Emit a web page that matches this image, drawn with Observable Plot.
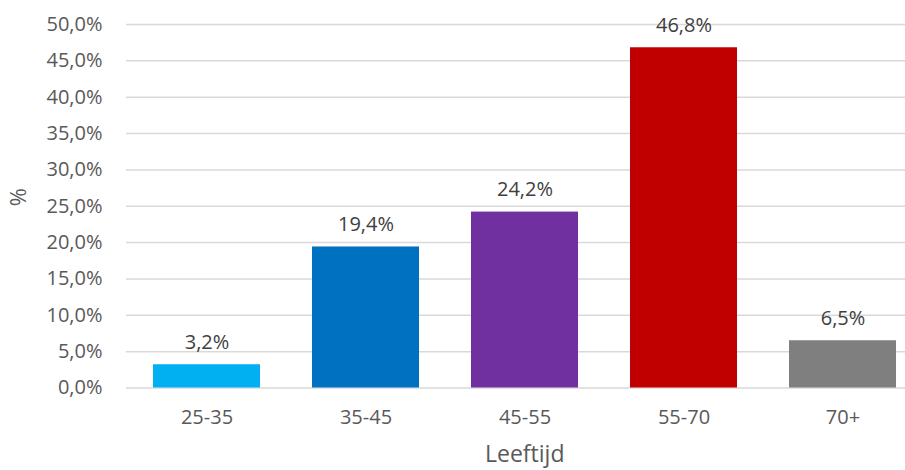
<!DOCTYPE html>
<html>
<head>
<meta charset="utf-8">
<script src="https://cdn.jsdelivr.net/npm/d3@7"></script>
<script src="https://cdn.jsdelivr.net/npm/@observablehq/plot@0.6"></script>
<style>
  html, body { margin: 0; padding: 0; background: #fff; overflow: hidden; }
  #chart { width: 905px; height: 470px; overflow: hidden; }
</style>
</head>
<body>
<div id="chart"></div>
<script>
const categories = ["25-35", "35-45", "45-55", "55-70", "70+"];
const values = [3.2, 19.4, 24.2, 46.8, 6.5];
const colors = ["#00B0F0", "#0070C0", "#7030A0", "#C00000", "#7F7F7F"];
const yTicks = [0, 5, 10, 15, 20, 25, 30, 35, 40, 45, 50];
const xTitle = "Leeftijd";
const yTitle = "%";

const data = categories.map((c, i) => ({cat: c, value: values[i], color: colors[i]}));
const fmt = v => v.toFixed(1).replace(".", ",") + "%";

const chart = Plot.plot({
  width: 905,
  height: 470,
  marginLeft: 126,
  marginRight: -17.5,
  marginTop: 24,
  marginBottom: 82.5,
  style: {fontFamily: "'Open Sans', sans-serif", fontSize: "20px", color: "#595959", background: "#fff", overflow: "hidden"},
  x: {domain: categories, paddingInner: 0.33, paddingOuter: 0.165},
  y: {domain: [0, 50], ticks: yTicks},
  marks: [
    Plot.gridY(yTicks, {stroke: "#d9d9d9", strokeOpacity: 1, strokeWidth: 1.5}),
    Plot.barY(data, {x: "cat", y: "value", fill: "color"}),
    Plot.text(data, {x: "cat", y: "value", text: d => fmt(d.value), lineAnchor: "bottom", dy: -16, fill: "#404040", fontSize: 20}),
    Plot.axisY(yTicks, {tickSize: 0, tickPadding: 24, tickFormat: fmt, fill: "#595959", fontSize: 20, label: null}),
    Plot.axisX({tickSize: 0, tickPadding: 22, fill: "#595959", fontSize: 20, label: null}),
    Plot.text([xTitle], {frameAnchor: "bottom", text: d => d, lineAnchor: "bottom", dy: 74, fill: "#595959", fontSize: 23}),
    Plot.text([yTitle], {frameAnchor: "left", text: d => d, rotate: -90, lineAnchor: "middle", dx: -108, fill: "#595959", fontSize: 22})
  ]
});
document.getElementById("chart").appendChild(chart);
</script>
</body>
</html>
